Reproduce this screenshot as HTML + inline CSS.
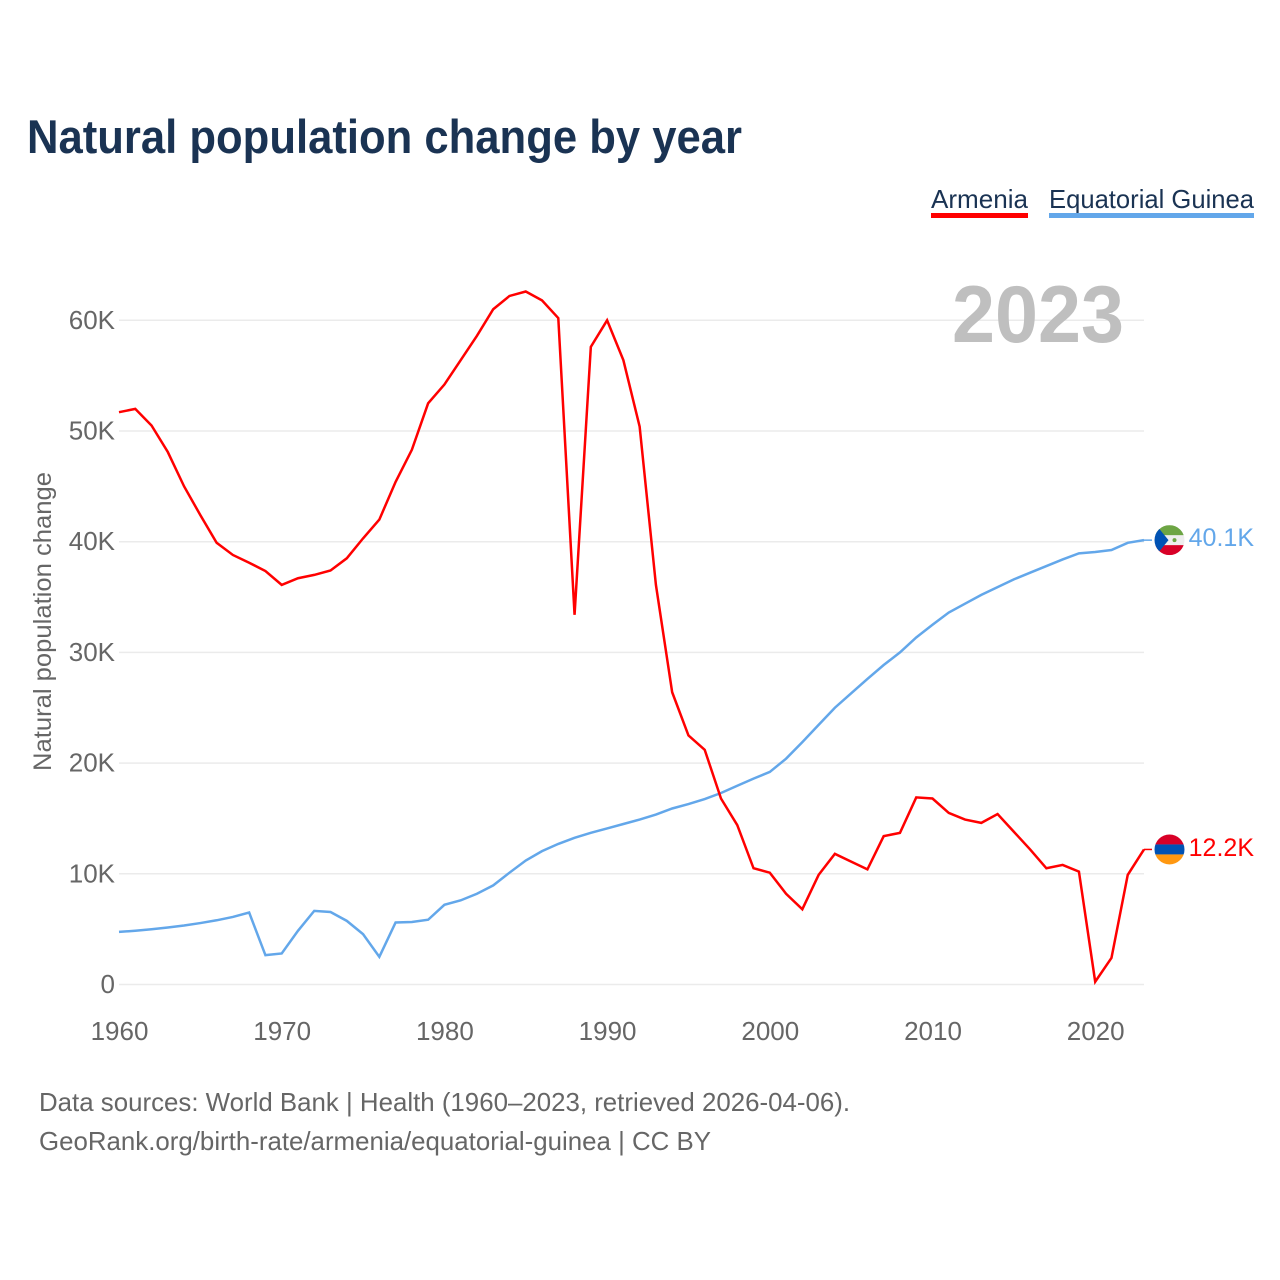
<!DOCTYPE html>
<html lang="en">
<head>
<meta charset="utf-8">
<title>Natural population change by year</title>
<style>
html,body{margin:0;padding:0;background:#fff;width:1280px;height:1280px;overflow:hidden}
svg{display:block;font-family:"Liberation Sans",sans-serif}
</style>
</head>
<body>
<svg id="chart" xmlns="http://www.w3.org/2000/svg" width="1280" height="1280" viewBox="0 0 1280 1280">
  <defs>
    <clipPath id="flag-clip"><circle cx="0" cy="0" r="15"/></clipPath>
  </defs>
  <rect width="1280" height="1280" fill="#fff"/>
  <text x="27" y="153" font-size="47" font-weight="700" fill="#1a3353" textLength="715" lengthAdjust="spacingAndGlyphs">Natural population change by year</text>

  <g>
    <g>
      <text x="931" y="208" font-size="26" fill="#1a3353" textLength="97" lengthAdjust="spacingAndGlyphs">Armenia</text>
      <rect x="931" y="213" width="97" height="5" fill="#ff0000"/>
    </g>
    <g>
      <text x="1049" y="208" font-size="26" fill="#1a3353" textLength="205" lengthAdjust="spacingAndGlyphs">Equatorial Guinea</text>
      <rect x="1049" y="213" width="205" height="5" fill="#63a7ea"/>
    </g>
  </g>

  <g id="grid"></g>
  <g id="y-ticks"></g>
  <g id="x-ticks"></g>
  <text transform="translate(51 771) rotate(-90)" font-size="25" fill="#666" textLength="299" lengthAdjust="spacingAndGlyphs">Natural population change</text>
  <text x="952" y="342" font-size="81" font-weight="700" fill="#bfbfbf" textLength="172" lengthAdjust="spacingAndGlyphs">2023</text>

  <g id="series"></g>

  <g id="end-eg">
    <g clip-path="url(#flag-clip)">
      <rect x="-15" y="-15" width="30" height="30" fill="#eeeeee"/>
      <rect x="-15" y="-15" width="30" height="10" fill="#6da544"/>
      <rect x="-15" y="5" width="30" height="10" fill="#d80027"/>
      <polygon points="-15,-15 -15,15 -10,11 -1,0 -10,-11" fill="#0052b4"/>
      <circle cx="5" cy="0" r="2" fill="#6da544"/>
    </g>
    <text id="label-eg" x="84.5" y="6" text-anchor="end" font-size="25" fill="#63a7ea"></text>
  </g>
  <g id="end-am">
    <g clip-path="url(#flag-clip)">
      <rect x="-15" y="-15" width="30" height="10" fill="#d80027"/>
      <rect x="-15" y="-5" width="30" height="10" fill="#0052b4"/>
      <rect x="-15" y="5" width="30" height="10" fill="#ff9811"/>
    </g>
    <text id="label-am" x="84.5" y="6.5" text-anchor="end" font-size="25" fill="#ff0000"></text>
  </g>

  <g font-size="26" fill="#666">
    <text x="39" y="1111" textLength="811" lengthAdjust="spacingAndGlyphs">Data sources: World Bank | Health (1960–2023, retrieved 2026-04-06).</text>
    <text x="39" y="1150" textLength="672" lengthAdjust="spacingAndGlyphs">GeoRank.org/birth-rate/armenia/equatorial-guinea | CC BY</text>
  </g>
</svg>
<script>
const startYear = 1960;
const xTickYears = [1960, 1970, 1980, 1990, 2000, 2010, 2020];
const yTickValues = [0, 10, 20, 30, 40, 50, 60];
const armenia = [51.7,52.0,50.5,48.1,45.0,42.4,39.9,38.8,38.1,37.35,36.1,36.7,37.0,37.4,38.5,40.3,42.0,45.4,48.3,52.5,54.2,56.4,58.6,61.0,62.2,62.6,61.8,60.2,33.4,57.6,60.0,56.4,50.4,36.1,26.4,22.5,21.2,16.8,14.4,10.5,10.1,8.2,6.8,9.9,11.8,11.1,10.4,13.4,13.7,16.9,16.8,15.5,14.9,14.6,15.4,13.8,12.2,10.5,10.8,10.2,0.25,2.4,9.9,12.2];
const equatorialGuinea = [4.75,4.86,4.99,5.15,5.33,5.55,5.8,6.1,6.5,2.65,2.8,4.85,6.65,6.55,5.75,4.55,2.5,5.6,5.65,5.85,7.2,7.6,8.2,8.95,10.1,11.2,12.05,12.7,13.25,13.7,14.1,14.5,14.9,15.35,15.9,16.3,16.75,17.3,17.95,18.6,19.2,20.4,21.9,23.45,25.0,26.3,27.6,28.86,30.0,31.35,32.5,33.6,34.4,35.2,35.9,36.6,37.2,37.8,38.4,38.95,39.07,39.25,39.9,40.14];

const NS = 'http://www.w3.org/2000/svg';
function xScale(year) { return 119 + (year - 1960) * 16.27; }
function yScale(v) { return 984.5 - v * 11.07; }
function pathFor(values) {
  return values.map((v, i) => (i ? 'L' : 'M') + xScale(startYear + i).toFixed(2) + ' ' + yScale(v).toFixed(2)).join(' ');
}
const gridGroup = document.getElementById('grid');
const yGroup = document.getElementById('y-ticks');
const xGroup = document.getElementById('x-ticks');
const seriesGroup = document.getElementById('series');

yTickValues.forEach(function (v) {
  const line = document.createElementNS(NS, 'line');
  
  
  line.setAttribute('x1', 119);
  line.setAttribute('x2', 1144);
  line.setAttribute('y1', yScale(v));
  line.setAttribute('y2', yScale(v));
  line.setAttribute('stroke', '#ebebeb');
  line.setAttribute('stroke-width', '1.5');
  gridGroup.appendChild(line);
  const t = document.createElementNS(NS, 'text');
  
  
  t.setAttribute('x', 115);
  t.setAttribute('y', yScale(v) + 8.5);
  t.setAttribute('text-anchor', 'end');
  t.setAttribute('font-size', '26');
  t.setAttribute('fill', '#666');
  t.textContent = v === 0 ? '0' : v + 'K';
  yGroup.appendChild(t);
});

xTickYears.forEach(function (y) {
  const t = document.createElementNS(NS, 'text');
  
  
  t.setAttribute('x', xScale(y) + 0.5);
  t.setAttribute('y', 1040);
  t.setAttribute('text-anchor', 'middle');
  t.setAttribute('font-size', '26');
  t.setAttribute('fill', '#666');
  t.textContent = y;
  xGroup.appendChild(t);
});

function drawSeries(values, color, groupId, labelId) {
  const last = values[values.length - 1];
  const lx = xScale(startYear + values.length - 1);
  const p = document.createElementNS(NS, 'path');
  
  
  p.setAttribute('d', pathFor(values));
  p.setAttribute('fill', 'none');
  p.setAttribute('stroke', color);
  p.setAttribute('stroke-width', '2.5');
  p.setAttribute('stroke-linejoin', 'miter');
  seriesGroup.appendChild(p);
  const c = document.createElementNS(NS, 'line');
  
  
  c.setAttribute('x1', lx);
  c.setAttribute('x2', 1152);
  c.setAttribute('y1', yScale(last));
  c.setAttribute('y2', yScale(last));
  c.setAttribute('stroke', color);
  c.setAttribute('stroke-width', '1.5');
  seriesGroup.appendChild(c);
  document.getElementById(groupId).setAttribute('transform', 'translate(1169.5 ' + yScale(last).toFixed(2) + ')');
  document.getElementById(labelId).textContent = last.toFixed(1) + 'K';
}
drawSeries(equatorialGuinea, '#63a7ea', 'end-eg', 'label-eg');
drawSeries(armenia, '#ff0000', 'end-am', 'label-am');
</script>
</body>
</html>
